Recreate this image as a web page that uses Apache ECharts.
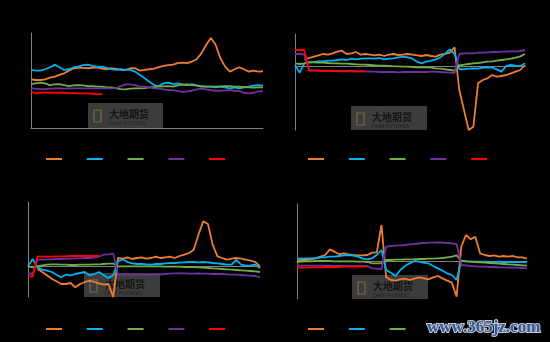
<!DOCTYPE html>
<html>
<head>
<meta charset="utf-8">
<script src="https://cdn.jsdelivr.net/npm/echarts@6/dist/echarts.min.js"></script>
<style>
html,body{margin:0;padding:0;background:#000;}
#c{width:550px;height:342px;}
</style>
</head>
<body>
<div id="c"></div>
<script>
const days = ['1','2','3','4','5','6','7','8','9','10','11','12','13','14','15','16','17','18','19','20','21','22','23','24','25','26','27','28','29','30','31','32','33','34','35','36','37','38','39','40','41','42','43','44','45','46','47','48','49','50'];
const seriesNames = ['2020','2021','2022','2023','2024'];

// Panel 1
const p1Orange = [145,143,143,145,150,153,158,163,171,178,180,179,178,180,180,177,175,178,176,173,173,178,178,171,173,175,177,181,185,187,189,193,195,193,198,205,223,248,268,248,208,183,168,175,181,175,168,171,168,169];
const p1Blue = [173,171,171,175,181,188,181,173,175,181,183,187,189,185,181,183,179,175,173,175,173,173,168,158,148,138,128,125,133,135,131,133,130,128,131,127,125,123,123,121,123,121,118,121,118,121,123,126,128,126];
const p1Green = [131,133,135,133,128,130,131,128,125,127,128,127,125,125,123,123,121,121,118,116,115,117,118,118,119,121,122,123,124,125,123,127,129,130,128,126,123,123,123,123,124,125,125,123,123,122,121,120,121,121];
const p1Purple = [118,117,116,116,117,118,118,117,118,118,118,118,118,118,118,118,118,118,119,125,130,130,128,123,123,121,118,117,115,113,113,110,108,109,111,115,117,115,113,111,111,112,113,111,110,105,103,105,109,110];
const p1Red = [108,103,105,106,105,105,105,105,104,104,103,103,103,102,100,101];

// Panel 2
const p2Orange = [null,null,20,24,28,32,36,34,38,43,46,36,38,42,34,36,34,32,34,30,34,36,33,34,36,34,32,30,33,30,28,34,36,40,56,-72,-132,-192,-182,-52,-42,-37,-27,-32,-30,-27,-22,-17,-12,3];
const p2Blue = [3,-20,8,11,12,14,14,16,16,18,20,18,22,20,22,23,23,22,24,20,22,23,26,28,26,22,13,8,13,16,20,26,38,50,36,-9,-10,-8,-7,-8,-5,-4,-5,-10,-17,0,3,1,0,8];
const p2Green = [8,6,8,11,11,10,10,9,8,8,7,7,6,5,4,4,3,2,1,1,0,-1,-1,-2,-2,-3,-4,-4,-4,-5,-7,-8,-10,-12,-14,2,4,6,8,9,11,13,14,16,18,20,22,25,29,36];
const p2Purple = [36,36,34,-13,-13,-14,-14,-14,-14,-15,-15,-15,-15,-16,-16,-16,-17,-17,-18,-18,-18,-18,-19,-18,-18,-18,-18,-18,-18,-17,-17,-18,-19,-20,-21,36,38,38,38,40,40,41,42,42,43,43,44,44,45,48];
const p2Red = [48,48,48,-14,-14,-14,-15,-15,-15,-15,-16,-16,-16,-16,-16,-16];

// Panel 3
const p3Orange = [null,null,-6,-16,-26,-36,-44,-52,-52,-49,-62,-52,-46,-42,-46,-50,-54,-52,-91,26,24,28,23,26,28,24,26,30,26,28,30,26,32,36,41,51,96,136,128,66,31,26,21,24,26,24,21,18,14,1];
const p3Blue = [1,23,-2,-9,-12,-16,-24,-32,-24,-26,-22,-19,-16,-26,-22,-16,-26,-34,-26,16,22,14,10,8,8,7,6,8,8,10,11,11,12,13,14,14,13,14,13,11,10,8,6,6,20,6,3,4,6,-4];
const p3Green = [1,-2,1,4,6,7,7,6,6,5,5,6,6,6,7,7,8,9,9,1,1,1,1,1,1,1,1,1,1,0,0,0,0,-1,-1,-1,-2,-3,-4,-5,-6,-7,-8,-9,-10,-11,-12,-13,-14,-16];
const p3Purple = [-19,-22,21,21,22,22,23,23,24,24,25,25,26,26,27,30,36,37,39,-24,-22,-23,-24,-24,-24,-24,-24,-23,-23,-22,-21,-20,-20,-20,-21,-21,-20,-21,-21,-22,-22,-22,-23,-24,-24,-25,-26,-27,-28,-32];
const p3Red = [-29,-29,31,30,30,30,31,31,31,32,32,32,32,32,32,33];

// Panel 4
const p4Orange = [3,4,4,6,9,14,19,36,29,21,24,21,19,18,18,19,26,27,109,-48,-56,-58,-54,-52,-56,-52,-48,-51,-54,-48,-44,-51,-58,-64,-106,44,79,66,74,24,19,16,18,14,16,14,16,12,12,8];
const p4Blue = [9,8,9,9,10,12,12,14,14,16,18,19,17,14,8,6,9,19,34,-26,-34,-44,-26,-14,-6,1,-1,-4,-6,-14,-21,-28,-36,-41,-56,2,0,-1,-1,-1,-1,-2,-2,-1,-2,-2,-2,-2,-2,-3];
const p4Green = [-2,-1,0,0,1,1,1,1,0,0,0,0,0,-1,-1,-2,-6,-6,-6,4,4,5,5,6,6,6,7,7,8,8,9,10,12,14,18,1,0,-1,-2,-3,-4,-5,-6,-7,-8,-9,-10,-11,-12,-13];
const p4Purple = [-13,-13,-13,-13,-13,-13,-13,-13,-14,-14,-14,-14,-14,-14,-14,-14,-21,-22,-23,44,46,47,48,49,51,52,54,55,56,56,57,56,55,54,52,-11,-12,-14,-15,-16,-16,-17,-17,-18,-18,-19,-19,-19,-20,-21];
const p4Red = [-19,-19,-19,-18,-18,-18,-17,-17,-17,-17,-16,-16,-16,-16,-16,-16];

const colors = ['#ED7D31','#00B0F0','#70AD47','#7030A0','#FF0000'];

const panels = [
  {data:[p1Orange,p1Blue,p1Green,p1Purple,p1Red], min:0, max:283, grid:{left:31,top:33,width:232,height:95}, legend:{left:46,top:155}, wm:{x:88,y:103,w:75,h:25}},
  {data:[p2Orange,p2Blue,p2Green,p2Purple,p2Red], min:-192, max:96, grid:{left:295,top:34,width:230,height:96}, legend:{left:308,top:155}, wm:{x:351,y:106,w:76,h:24}},
  {data:[p3Orange,p3Blue,p3Green,p3Purple,p3Red], min:-91, max:194, grid:{left:28,top:202,width:232,height:95}, legend:{left:46,top:325}, wm:{x:84,y:273,w:76,h:24}},
  {data:[p4Orange,p4Blue,p4Green,p4Purple,p4Red], min:-113, max:172, grid:{left:297,top:204,width:230,height:95}, legend:{left:308,top:325}, wm:{x:352,y:275,w:76,h:24}}
];

const grids=[], xAxes=[], yAxes=[], series=[], legends=[], graphics=[];
panels.forEach((p, gi) => {
  grids.push(Object.assign({containLabel:false}, p.grid));
  xAxes.push({type:'category', gridIndex:gi, data:days, boundaryGap:false,
    axisLine:{show:true, lineStyle:{color:'#808080', width:1}}, axisTick:{show:false}, axisLabel:{show:false}, splitLine:{show:false}});
  yAxes.push({type:'value', gridIndex:gi, min:p.min, max:p.max,
    axisLine:{show:true, lineStyle:{color:'#808080', width:1}}, axisTick:{show:false}, axisLabel:{show:false}, splitLine:{show:false}});
  p.data.forEach((d, si) => {
    series.push({type:'line', name:seriesNames[si], xAxisIndex:gi, yAxisIndex:gi, data:d,
      showSymbol:false, symbol:'none', lineStyle:{width:1.8, color:colors[si]}, itemStyle:{color:colors[si]},
      animation:false, z:3});
  });
  legends.push({left:p.legend.left, top:p.legend.top, padding:0, itemGap:2, itemWidth:16, itemHeight:2, icon:'rect',
    data:seriesNames, selectedMode:false, textStyle:{color:'#000', fontSize:8}});
  const w = p.wm;
  graphics.push({type:'group', left:w.x, top:w.y, z:1, children:[
    {type:'rect', shape:{x:0,y:0,width:w.w,height:w.h}, style:{fill:'#3c3c3c'}, z:1},
    {type:'rect', shape:{x:6,y:7,width:7,height:12}, style:{fill:'none', stroke:'#7a6a3a', lineWidth:1.2}, z:1},
    {type:'polyline', shape:{points:[[8,9],[11,14],[8,18]]}, style:{fill:'none', stroke:'#2c3b55', lineWidth:1.5}, z:1},
    {type:'text', style:{x:21, y:6, text:'大地期货', font:'bold 10px "Noto Sans CJK SC"', fill:'#141414'}, z:1},
    {type:'text', style:{x:21, y:18, text:'DADI FUTURES', font:'5px "DejaVu Sans"', fill:'#202020'}, z:1}
  ]});
});
graphics.push({type:'text', left:426, top:318, z:10, style:{text:'www.365jz.com', font:'bold 17px "Liberation Serif"', fill:'#2d58a6', stroke:'#c8c8c8', lineWidth:2}});

const chart = echarts.init(document.getElementById('c'), null, {renderer:'canvas'});
chart.setOption({
  backgroundColor:'#000',
  animation:false,
  grid:grids, xAxis:xAxes, yAxis:yAxes, series:series, legend:legends, graphic:graphics
});
</script>
</body>
</html>
